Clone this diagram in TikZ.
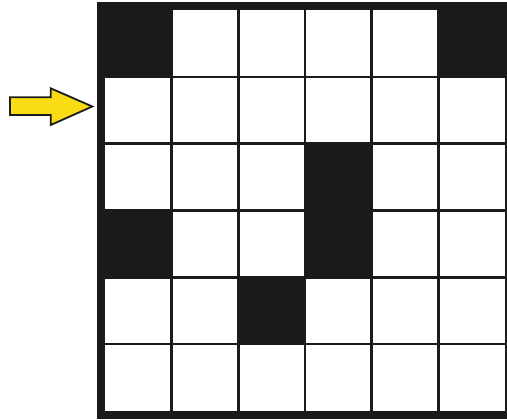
\documentclass[tikz,border=0pt]{standalone}
\definecolor{ink}{HTML}{1A1C1B}
\definecolor{arrowyellow}{HTML}{FADC14}
\begin{document}
\begin{tikzpicture}[x=1pt,y=-1pt,
  gridline/.style={draw=ink,line width=2.6pt},
  blackcell/.style={fill=ink},
  frame/.style={draw=ink,line width=8pt},
  pointer/.style={fill=arrowyellow,draw=ink,line width=1.8pt,line join=miter}]
\useasboundingbox (0,0) rectangle (507,420);
\clip (0,0) rectangle (507,420);
\def\cw{66.67}
\def\ch{66.83}
% black cells (column, row)
\foreach \c/\r in {0/0,5/0,3/2,3/3,0/3,2/4}{
  \fill[blackcell] ({105+\c*\cw-1.3},{10+\r*\ch-1.3}) rectangle ({105+(\c+1)*\cw+1.3},{10+(\r+1)*\ch+1.3});
}
% inner grid lines
\foreach \i in {1,...,5}{
  \draw[gridline] ({105+\i*\cw},10) -- ({105+\i*\cw},411);
  \draw[gridline] (105,{10+\i*\ch}) -- (505,{10+\i*\ch});
}
% outer frame
\draw[frame] (101,6) rectangle (509,414.5);
% arrow
\draw[pointer] (10,97.3) -- (50.7,97.3) -- (50.7,88.3) -- (92.3,106.5) -- (50.7,125) -- (50.7,115) -- (10,115) -- cycle;
\end{tikzpicture}
\end{document}
